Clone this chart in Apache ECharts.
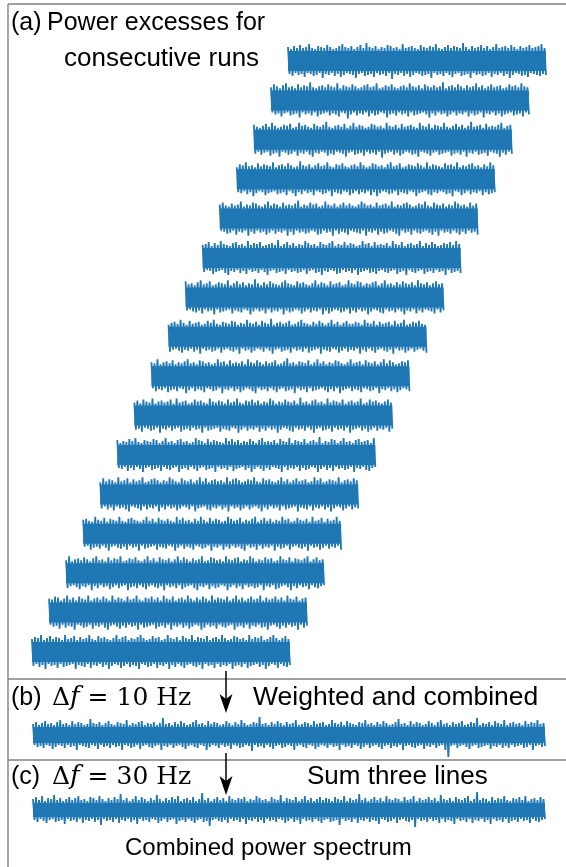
<!DOCTYPE html>
<html>
<head>
<meta charset="utf-8">
<script src="https://cdn.jsdelivr.net/npm/echarts@6/dist/echarts.min.js"></script>
<style>
html,body{margin:0;padding:0;background:#fff;}
#chart{width:566px;height:867px;}
</style>
</head>
<body>
<div id="chart"></div>
<script>
// ---- Data: spike heights above (Up) and below (Down) each noisy power-excess trace ----
const run01Up   = [3,1,4,2,5,2,3,6,2,1,4,3,2,5,3,1,2,4,6,3,2,4,1,3,5,2,7,3,2,4,1,3,2,5,4,2,3,1,6,2,3,4,2,1,5,3,2,4,3,6,2,1,3,5,2,4,3,2,7,3,1,4,2,3,5,2,4,1,3,6,2,3,4,2,5,3,1,4,2,3,5,2,3,4,6,2];
const run01Down = [2,4,1,3,2,5,1,2,4,3,1,6,2,3,1,4,2,5,3,1,2,3,6,2,1,4,3,2,5,1,3,2,4,1,7,2,3,1,4,2,5,3,1,2,4,3,2,6,1,3,2,4,1,3,5,2,1,4,3,2,6,1,3,2,4,3,1,5,2,3,1,4,2,6,3,1,2,4,3,5,1,2,3,4,2,3];
const run02Up   = [2,5,3,1,4,6,2,3,1,5,2,4,3,7,2,1,3,4,2,5,3,2,6,1,4,3,2,5,3,1,2,4,5,2,3,6,1,2,4,3,5,2,1,3,4,2,6,3,2,4,1,5,3,2,4,2,3,7,1,3,4,2,5,3,1,4,2,3,6,2,4,1,3,5,2,3,4,1,2,5,3,4,2,6,3,2];
const run02Down = [1,3,2,5,2,1,4,3,2,6,1,3,2,4,1,5,3,2,1,4,2,3,5,1,2,7,3,1,4,2,3,1,5,2,4,3,1,2,6,3,2,4,1,3,2,5,1,4,3,2,1,3,6,2,4,1,3,2,5,3,1,4,2,3,1,5,2,4,3,1,6,2,3,1,4,2,5,3,2,1,4,3,2,5,1,3];
const run03Up   = [4,2,1,3,5,2,6,3,1,2,4,3,5,1,2,6,3,4,2,1,5,3,2,4,7,2,1,3,4,2,5,1,3,6,2,4,3,1,2,5,4,2,3,1,6,3,2,4,1,5,2,3,4,2,1,6,3,2,5,1,4,3,2,6,2,1,3,5,2,4,1,3,7,2,3,4,1,5,2,3,2,4,6,1,3,4];
const run03Down = [3,1,4,2,1,5,3,2,6,1,2,4,3,1,5,2,3,1,4,6,2,3,1,2,5,3,4,1,2,3,6,2,1,4,3,2,5,1,3,2,4,1,7,3,2,1,4,2,5,3,1,2,4,3,6,1,2,3,5,2,1,4,3,2,1,5,3,2,4,1,6,2,3,1,4,3,2,5,1,2,3,6,2,4,1,3];
const run04Up   = [1,4,3,6,2,3,1,5,2,4,3,2,6,1,3,4,2,5,3,1,2,7,3,2,4,1,3,5,2,3,6,2,1,4,3,5,2,1,3,4,2,6,3,1,2,5,4,2,3,1,4,6,2,3,5,1,2,4,3,2,5,3,1,6,2,4,3,2,1,5,3,4,2,6,1,3,2,4,5,2,3,1,4,2,6,3];
const run04Down = [2,3,1,4,2,6,3,1,2,5,3,2,1,4,3,2,5,1,3,6,2,4,1,3,2,5,1,2,4,3,1,6,2,3,4,1,2,5,3,1,4,2,3,1,5,2,6,3,1,2,4,3,1,5,2,3,4,1,2,6,3,2,1,4,5,2,3,1,2,4,3,6,1,2,5,3,1,4,2,3,1,5,2,4,3,2];
const run05Up   = [3,5,2,1,4,2,3,6,1,3,2,5,4,2,1,3,6,2,4,3,1,5,2,3,2,4,7,1,3,2,5,3,4,1,2,6,3,2,4,1,3,5,2,4,2,1,3,6,4,2,3,1,5,2,3,4,2,6,1,3,2,4,5,3,1,2,4,3,6,2,1,5,3,2,4,1,3,2,6,4,2,3,1,5,2,4];
const run05Down = [1,2,4,3,1,5,2,3,1,6,2,4,1,3,2,5,3,1,4,2,3,1,6,2,5,1,3,2,4,3,1,2,5,4,1,3,2,6,1,4,2,3,5,1,2,3,4,1,6,2,3,1,5,2,4,3,1,2,4,6,1,3,2,5,1,3,4,2,1,3,5,2,6,1,3,2,4,1,3,5,2,4,1,3,2,5];
const run06Up   = [2,3,5,1,4,2,6,3,2,1,4,5,2,3,1,6,2,4,3,5,1,2,3,4,2,7,1,3,5,2,4,1,3,2,6,4,2,3,1,5,3,2,4,6,1,3,2,5,2,4,3,1,2,6,3,4,1,5,2,3,2,4,1,6,3,2,5,1,3,4,2,3,6,1,4,2,5,3,1,2,4,3,5,2,6,3];
const run06Down = [3,1,2,5,3,2,1,4,6,2,3,1,4,2,5,1,3,2,4,1,3,6,2,1,4,3,2,5,1,3,2,4,3,1,5,2,1,4,3,6,2,3,1,2,5,4,1,3,2,4,1,6,3,2,1,4,3,5,2,1,3,4,2,1,5,3,2,6,1,3,4,2,1,5,3,2,4,1,3,2,6,1,4,3,2,4];
const run07Up   = [5,2,3,1,4,6,2,3,5,1,2,4,3,2,6,1,3,5,2,4,1,3,2,7,3,1,4,2,5,3,2,1,4,6,3,2,1,5,3,4,2,1,3,6,2,4,3,1,5,2,3,4,1,2,6,3,2,5,4,1,3,2,4,5,1,3,6,2,3,1,4,2,5,3,2,4,1,6,3,2,4,1,3,5,2,3];
const run07Down = [2,1,3,4,2,5,1,3,2,6,1,4,3,2,1,5,2,3,4,1,2,6,3,1,3,2,5,1,4,2,3,1,6,2,4,3,1,2,5,3,1,4,2,3,1,6,2,5,3,1,2,4,3,1,5,2,4,1,3,2,6,3,1,2,4,5,1,3,2,4,1,3,6,2,3,1,5,2,4,1,2,3,5,1,4,2];
const run08Up   = [1,3,4,2,6,3,1,5,2,3,4,1,2,5,3,6,2,1,4,3,2,5,4,1,3,2,6,3,2,4,1,5,3,2,7,1,3,4,2,3,5,1,2,4,6,3,2,1,4,2,5,3,1,3,6,2,4,1,3,5,2,2,4,3,1,6,3,2,5,1,4,2,3,4,1,5,2,3,6,1,2,4,3,5,2,1];
const run08Down = [4,2,1,3,5,2,3,1,4,2,6,1,3,2,4,3,1,5,2,1,3,4,2,6,1,3,2,5,3,1,2,4,1,3,6,2,1,4,3,2,5,1,3,2,4,1,5,3,2,1,6,2,3,4,1,2,5,3,1,4,2,3,1,6,2,4,1,3,5,2,1,3,4,2,6,1,3,2,5,3,1,4,2,1,3,5];
const run09Up   = [3,2,6,1,3,4,2,5,1,3,2,4,6,2,3,1,5,4,2,3,1,2,6,3,4,1,5,2,3,2,4,1,6,3,2,5,3,1,4,2,3,5,1,2,4,7,2,3,1,4,3,2,5,1,3,6,2,4,1,3,2,5,4,2,1,3,6,2,3,4,1,5,3,2,4,1,3,6,2,5,3,1,2,4,3,5];
const run09Down = [1,4,2,3,1,5,3,2,4,1,2,6,3,1,4,2,3,5,1,2,4,3,1,6,2,3,1,4,2,5,3,1,2,4,6,1,3,2,4,1,3,5,2,1,4,3,2,6,1,3,2,5,1,4,3,2,1,3,5,2,4,1,6,3,2,1,4,2,3,5,1,2,4,3,1,6,2,3,1,4,2,5,3,1,2,4];
const run10Up   = [2,4,1,5,3,2,6,1,3,4,2,3,5,1,6,2,3,4,1,2,5,3,4,2,1,6,3,2,4,3,1,5,2,3,6,2,1,4,3,5,2,4,1,3,2,6,4,1,3,2,5,3,2,4,1,7,2,3,1,4,5,2,3,1,6,2,4,3,2,5,1,3,4,2,3,6,1,2,5,3,4,2,1,3,5,2];
const run10Down = [3,2,5,1,2,4,3,1,6,2,3,1,4,2,1,5,3,2,4,1,3,2,6,1,4,3,2,1,5,2,3,4,1,2,6,3,1,4,2,3,1,5,2,4,1,3,2,6,3,1,2,4,5,1,3,2,4,1,3,6,2,1,4,3,2,5,1,3,2,4,1,6,3,2,1,4,2,5,3,1,4,2,3,1,5,2];
const run11Up   = [4,1,3,2,5,3,6,2,1,4,3,2,5,4,1,3,6,2,3,1,4,5,2,3,1,2,6,4,3,1,5,2,4,3,2,1,6,3,5,2,4,1,3,2,5,3,1,4,6,2,3,2,4,1,5,3,2,6,1,4,3,2,5,1,3,4,2,7,1,3,2,5,4,1,3,6,2,3,1,4,5,2,3,4,1,6];
const run11Down = [2,3,1,5,2,4,1,3,6,2,1,4,3,2,5,1,3,4,2,1,6,3,2,4,1,3,5,2,1,4,3,2,6,1,3,2,4,1,5,3,2,1,4,2,6,3,1,3,5,2,4,1,2,3,6,1,4,2,3,1,5,2,4,3,1,2,6,3,1,4,2,5,1,3,2,4,3,1,6,2,3,1,4,5,2,1];
const run12Up   = [1,5,2,4,3,1,6,2,3,5,1,4,2,3,6,1,2,4,5,3,1,3,2,6,4,2,1,5,3,2,4,1,3,6,2,5,1,3,4,2,3,1,6,2,4,5,3,1,2,4,3,6,2,1,5,3,4,2,1,3,6,2,4,1,3,5,2,3,4,1,2,6,3,5,1,2,4,3,2,6,1,3,4,2,5,3];
const run12Down = [3,1,4,2,5,1,3,2,4,6,1,2,3,5,1,4,2,3,1,6,2,4,1,3,2,5,3,1,2,4,1,6,3,2,1,4,5,2,3,1,4,2,6,1,3,2,5,3,1,4,2,1,3,6,2,4,1,3,2,5,1,4,3,2,1,6,2,3,4,1,5,2,3,1,4,2,6,3,1,2,5,3,1,4,2,3];
const run13Up   = [3,4,2,1,6,3,2,5,1,4,3,2,6,2,1,4,5,3,2,1,3,6,2,4,1,5,3,2,4,2,1,6,3,5,2,3,1,4,2,6,3,1,5,2,4,3,1,2,6,4,2,3,5,1,3,2,4,6,1,3,5,2,4,1,3,2,6,3,4,1,2,5,3,2,4,1,6,2,3,5,1,4,2,3,6,2];
const run13Down = [2,1,5,3,2,4,1,3,6,2,1,3,4,2,5,1,3,2,6,1,4,3,2,1,5,2,3,4,1,2,6,3,1,4,2,3,5,1,2,4,3,1,6,2,3,1,5,2,4,1,3,2,4,6,1,3,2,5,1,4,2,3,1,6,2,4,3,1,5,2,1,3,4,2,6,1,3,2,5,3,1,4,2,3,1,5];
const run14Up   = [2,6,1,3,4,2,5,3,1,4,6,2,3,1,5,2,4,3,6,1,2,4,3,5,2,1,3,6,2,4,1,5,3,2,4,1,3,6,2,5,3,1,4,2,3,6,1,2,5,4,2,3,1,6,3,2,4,5,1,3,2,6,4,1,3,2,5,3,4,1,2,6,3,2,5,1,4,3,2,4,6,1,3,5,2,3];
const run14Down = [4,2,1,3,5,2,3,1,6,2,4,1,3,2,5,3,1,4,2,1,6,3,2,4,1,3,5,2,1,3,4,2,6,1,3,2,4,1,5,3,2,1,4,6,2,3,1,5,2,4,3,1,2,6,3,1,4,2,5,1,3,2,4,3,1,6,2,3,1,5,4,2,1,3,6,2,4,1,3,2,5,1,3,4,2,1];
const run15Up   = [3,2,5,4,1,3,6,2,4,1,5,3,2,6,1,3,4,2,5,3,1,6,2,4,3,1,5,2,3,6,2,1,4,3,5,2,4,1,6,3,2,5,1,3,4,2,6,3,1,4,2,5,3,1,6,2,4,3,2,5,1,3,6,2,4,1,3,5,2,3,6,1,4,2,3,5,2,4,1,6,3,2,5,1,3,4];
const run15Down = [1,3,2,5,1,4,2,3,6,1,2,4,3,1,5,2,3,1,4,6,2,1,3,5,2,4,1,3,2,6,1,4,3,2,1,5,3,2,4,1,6,2,3,1,4,2,5,3,1,2,6,4,1,3,2,5,1,3,4,2,1,6,3,2,4,1,5,2,3,1,4,3,6,2,1,3,5,2,4,1,3,2,6,1,4,2];
const run16Up   = [2,4,3,6,1,3,5,2,4,3,1,6,2,3,5,1,4,2,3,6,2,1,5,3,4,2,1,3,6,2,4,5,1,3,2,4,6,3,1,2,5,3,4,1,2,6,3,2,4,1,5,3,2,6,1,4,3,2,5,1,3,4,2,6,3,1,2,5,4,2,3,1,6,2,4,3,5,1,2,4,6,3,1,3,5,2];
const run16Down = [3,1,4,2,6,1,3,2,5,1,4,3,2,1,6,2,3,4,1,5,2,3,1,4,2,6,3,1,2,5,3,1,4,2,3,6,1,2,4,3,1,5,2,3,1,6,2,4,1,3,5,2,1,3,4,2,6,1,3,2,5,1,4,2,3,1,6,3,2,4,1,5,3,2,1,4,2,6,3,1,2,5,1,3,4,2];

// (b) weighted and combined, Δf = 10 Hz
const combinedUp   = [2,4,1,3,5,2,3,1,4,6, 2,3,1,5,2,4,3,1,2,7, 3,2,4,1,3,5,2,1,4,3, 2,6,1,3,2,4,5,1,3,2, 4,1,3,8,2,3,1,4,2,5, 3,1,2,4,6,2,3,1,5,2, 4,3,1,2,5,3,1,4,2,6, 3,1,2,4,3,9,2,3,1,4, 2,5,3,1,4,2,3,6,1,2, 4,3,1,5,2,3,4,1,2,6, 3,2,4,1,5,3,2,1,4,3, 6,2,3,1,4,2,5,3,1,2, 4,7,2,3,1,5,2,4,3,1, 2,5,3,1,4,6,2,3,1,4, 2,3,5,1,2,4,3,8,1,3, 2,4,1,5,3,2,6,1,3,4, 2,3,1,5,2,4,3,6,2,3];
const combinedDown = [1,3,2,4,1,2,5,3,1,2, 4,1,3,2,6,1,2,3,4,1, 2,5,1,3,2,4,1,3,2,6, 1,2,4,3,1,5,2,1,3,4, 2,1,6,2,3,1,4,2,1,3, 5,2,1,3,4,1,2,6,3,1, 2,4,1,3,2,5,1,2,4,3, 1,2,7,1,3,2,4,1,3,5, 2,1,4,3,1,2,6,2,1,3, 4,1,2,5,3,1,2,4,1,3, 2,6,1,3,2,4,1,2,5,3, 1,4,2,1,3,5,2,1,4,2, 3,1,6,2,1,3,4,2,1,5, 2,3,1,4,2,1,6,13,2,1, 4,2,1,3,5,2,1,4,3,2, 1,5,2,3,1,4,2,4,1,3, 2,1,4,3,1,6,2,1,3,2];

// (c) sum of three lines, Δf = 30 Hz
const summedUp   = [3,5,2,6,1,4,3,7,2,4, 1,3,5,2,4,6,2,3,1,5, 4,2,6,3,1,4,2,5,3,8, 2,4,1,3,6,2,5,3,1,4, 2,7,3,1,4,2,5,3,6,1, 3,4,2,5,1,3,9,2,4,1, 3,5,2,4,1,6,3,2,4,3, 5,1,3,2,6,4,2,3,1,5, 3,2,7,1,4,3,2,5,1,3, 6,2,4,1,3,5,2,4,3,1, 5,3,2,6,1,4,2,3,8,2, 4,1,3,5,2,4,1,6,3,2, 4,3,1,5,2,3,6,1,4,2, 3,5,2,4,1,7,3,2,4,1, 5,3,2,4,6,1,3,10,2,4, 3,1,5,2,4,3,6,2,1,4, 3,5,2,6,1,3,4,2,5,3];
const summedDown = [2,4,1,3,5,2,1,4,3,2, 6,1,3,2,4,1,5,2,3,1, 4,2,7,1,3,2,4,1,5,2, 3,1,4,2,6,1,3,2,4,1, 2,5,3,1,4,2,1,6,3,2, 4,1,3,5,2,1,4,3,8,2, 1,3,4,2,5,1,3,2,4,1, 6,2,3,1,4,2,5,1,3,2, 4,1,2,5,3,1,4,2,6,1, 3,2,4,1,3,5,2,1,4,3, 2,7,1,3,2,4,1,5,2,3, 1,4,2,3,6,1,2,4,3,1, 5,2,1,3,4,2,9,1,3,2, 4,1,3,2,5,1,4,2,3,6, 1,3,2,4,1,5,2,3,1,4, 2,6,1,3,2,4,1,5,3,2, 4,1,3,2,5,1,3,4,2,1];

const runs = [
  [run01Up, run01Down], [run02Up, run02Down], [run03Up, run03Down], [run04Up, run04Down],
  [run05Up, run05Down], [run06Up, run06Down], [run07Up, run07Down], [run08Up, run08Down],
  [run09Up, run09Down], [run10Up, run10Down], [run11Up, run11Down], [run12Up, run12Down],
  [run13Up, run13Down], [run14Up, run14Down], [run15Up, run15Down], [run16Up, run16Down]
];

// ---- Layout / style ----
const BLUE = '#1f77b4';
const FRAME = '#808080';
const SANS = '"Liberation Sans", Arial, sans-serif';
const A = { x0: 288, dx: -17.07, y0: 61, dy: 39.4, width: 258, core: 11, half: 22 };
const B = { left: 33, width: 512, center: 735, core: 9, half: 24 };
const C = { left: 33, width: 512, center: 810, core: 8, half: 22 };
const LINE_W = 1.8;
const BAND_INSET = 1;

// interleave the upper and lower excursions into one dense trace
function trace(up, down, core) {
  const d = [];
  for (let i = 0; i < up.length; i++) {
    d.push(core + up[i]);
    d.push(-(core + down[i]));
  }
  return d;
}

const grids = [], xAxes = [], yAxes = [], series = [];
function addStrip(left, center, width, half, up, down, core) {
  const k = grids.length;
  const d = trace(up, down, core);
  const band = core - BAND_INSET;
  grids.push({ left: left, top: center - half, width: width, height: 2 * half, outerBoundsMode: 'none', containLabel: false });
  xAxes.push({ type: 'value', gridIndex: k, min: 0, max: d.length - 1, show: false });
  yAxes.push({ type: 'value', gridIndex: k, min: -half, max: half, show: false });
  series.push({
    type: 'line', xAxisIndex: k, yAxisIndex: k, symbol: 'none', silent: true, clip: false,
    data: d.map((v, i) => [i, v]),
    lineStyle: { color: BLUE, width: LINE_W, join: 'bevel' },
    markArea: { silent: true, label: { show: false }, itemStyle: { color: BLUE, opacity: 1 },
      data: [[{ yAxis: -band }, { yAxis: band }]] }
  });
}

runs.forEach((r, i) => addStrip(A.x0 + A.dx * i, A.y0 + A.dy * i, A.width, A.half, r[0], r[1], A.core));
addStrip(B.left, B.center, B.width, B.half, combinedUp, combinedDown, B.core);
addStrip(C.left, C.center, C.width, C.half, summedUp, summedDown, C.core);

function txt(x, y, s, size) {
  return { type: 'text', x: x, y: y, silent: true,
    style: { text: s, fill: '#000', font: (size || 25) + 'px ' + SANS, textAlign: 'left', verticalAlign: 'middle', textVerticalAlign: 'middle' } };
}
function mathTxt(x, y, num) {
  return { type: 'text', x: x, y: y, silent: true,
    style: { text: '{n|Δ}{i|f}{n| = ' + num + ' Hz}', fill: '#000', textAlign: 'left', verticalAlign: 'middle', textVerticalAlign: 'middle',
      rich: { n: { fontFamily: 'DejaVu Serif', fontSize: 25, fill: '#000' },
              i: { fontFamily: 'DejaVu Serif', fontSize: 26, fontStyle: 'italic', fill: '#000' } } } };
}
function hline(x1, y, x2) {
  return { type: 'line', silent: true, shape: { x1: x1, y1: y, x2: x2, y2: y }, style: { stroke: FRAME, lineWidth: 1.4 } };
}
function arrow(x, y1, y2) {
  return [
    { type: 'line', silent: true, shape: { x1: x, y1: y1, x2: x, y2: y2 - 12 }, style: { stroke: '#000', lineWidth: 1.5 } },
    { type: 'polygon', silent: true, shape: { points: [[x, y2], [x - 6.5, y2 - 19], [x, y2 - 14], [x + 6.5, y2 - 19]] }, style: { fill: '#000' } }
  ];
}

const graphics = [
  { type: 'line', silent: true, shape: { x1: 8, y1: 4, x2: 8, y2: 867 }, style: { stroke: FRAME, lineWidth: 1.4 } },
  hline(8, 4, 566), hline(8, 679, 566), hline(8, 760, 566),
  txt(11, 23, '(a)'), txt(47, 23, 'Power excesses for'), txt(64, 59, 'consecutive runs', 26),
  txt(11, 698, '(b)'), mathTxt(52, 698, '10'), txt(253, 698, 'Weighted and combined', 26.5),
  txt(11, 777, '(c)'), mathTxt(52, 777, '30'), txt(307, 777, 'Sum three lines', 26),
  txt(125, 848, 'Combined power spectrum', 24)
].concat(arrow(226, 671, 713), arrow(226, 753, 795));

const chart = echarts.init(document.getElementById('chart'), null, { renderer: 'canvas' });
chart.setOption({
  backgroundColor: '#fff',
  animation: false,
  grid: grids, xAxis: xAxes, yAxis: yAxes, series: series,
  graphic: { elements: graphics }
});
</script>
</body>
</html>
